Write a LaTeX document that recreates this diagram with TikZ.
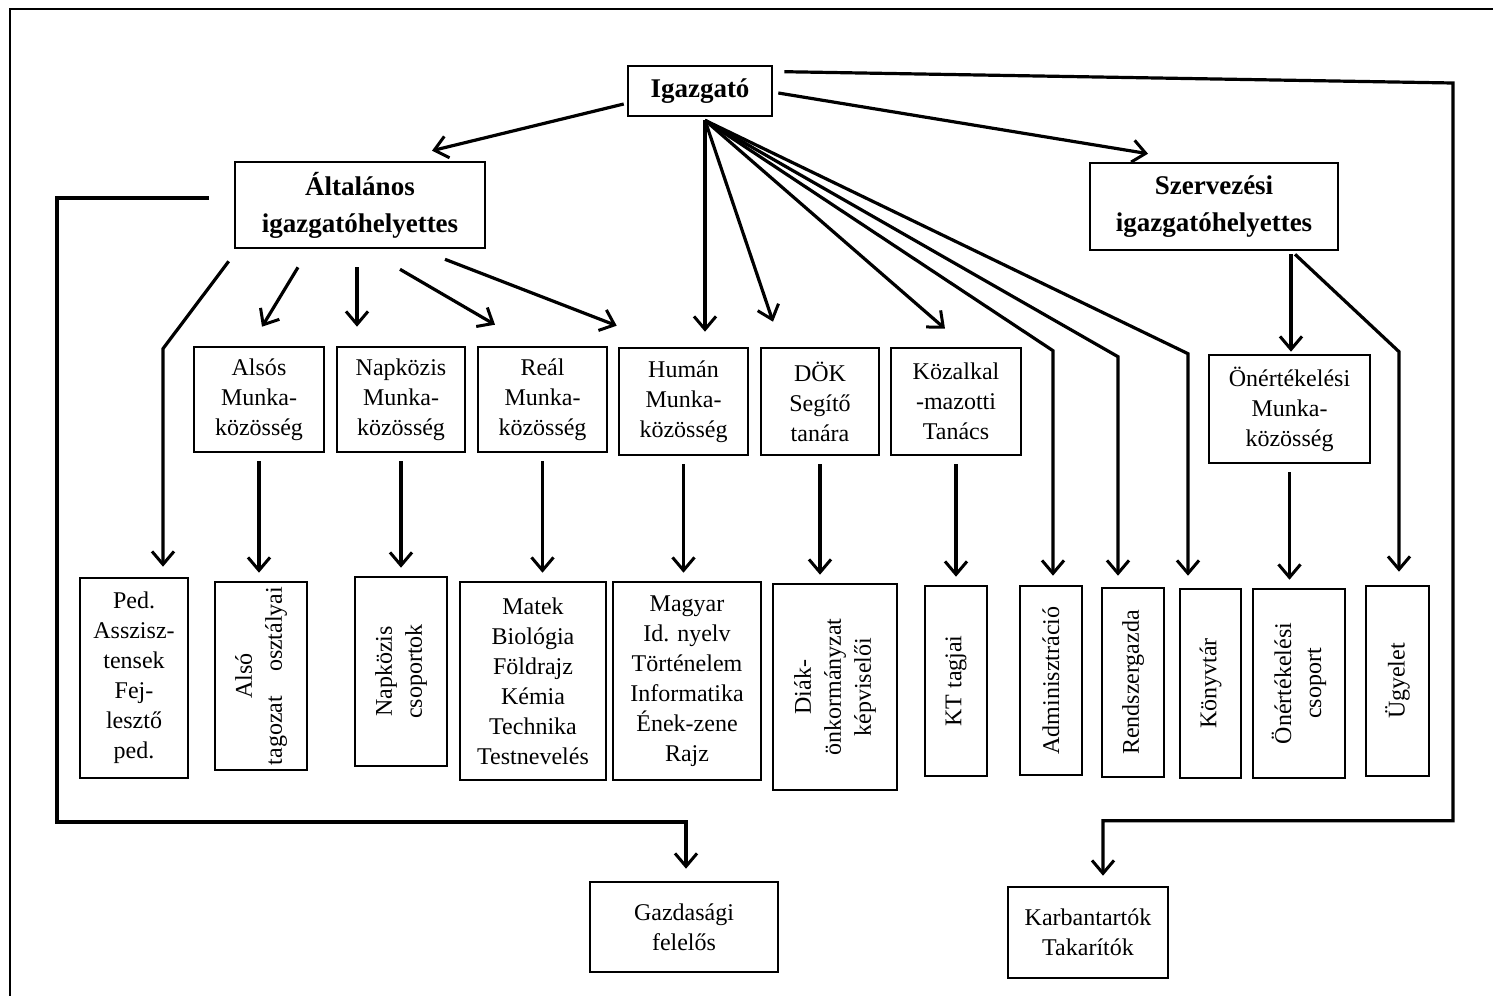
\documentclass[tikz,border=0pt]{standalone}
\usepackage{fontspec}
\setmainfont{Liberation Serif}
\usetikzlibrary{arrows.meta,calc}
\tikzset{
  box/.style     = {draw, line width=1.3pt, align=center, inner sep=1pt,
                    font=\fontsize{12}{15}\selectfont},
  headbox/.style = {box, font=\fontsize{13.5}{18.5}\selectfont\bfseries},
  vbox/.style    = {box, rotate=90},
  sig/.style     = {-{Straight Barb[length=6.5pt,width=11pt,line width=1.5pt]}, line width=1.6pt},
}

\begin{document}
\begin{tikzpicture}[x=0.5pt,y=-0.5pt]
\useasboundingbox (0,0) rectangle (1493,996);
\draw[line width=1.2pt] (1493,9) -- (10,9) -- (10,996);
% leaders
\node[headbox,minimum width=72pt,minimum height=25pt] (dir) at (700,91) {Igazgató};
\node[headbox,minimum width=125pt,minimum height=43pt] (alt) at (360,205) {Általános\\igazgatóhelyettes};
\node[headbox,minimum width=124pt,minimum height=43.5pt] (szerv) at (1214,206.5) {Szervezési\\igazgatóhelyettes};
% middle row
\node[box,minimum width=65pt,minimum height=52.5pt] (also) at (259,399.5) {Alsós\\Munka-\\közösség};
\node[box,minimum width=64pt,minimum height=52.5pt] (napk) at (401,399.5) {Napközis\\Munka-\\közösség};
\node[box,minimum width=64.5pt,minimum height=52.5pt] (real) at (542.5,399.5) {Reál\\Munka-\\közösség};
\node[box,minimum width=64.5pt,minimum height=53.5pt] (human) at (683.5,401.5) {Humán\\Munka-\\közösség};
\node[box,minimum width=59pt,minimum height=53.5pt] (dok) at (820,401.5) {DÖK\\Segítő\\tanára};
\node[box,minimum width=65pt,minimum height=53.5pt] (kozalk) at (956,401.5) {Közalkal\\-mazotti\\Tanács};
\node[box,minimum width=80.5pt,minimum height=54pt] (onert) at (1289.5,409) {Önértékelési\\Munka-\\közösség};
% bottom row
\node[box,minimum width=54pt,minimum height=100pt] (ped) at (134,678) {Ped.\\Asszisz-\\tensek\\Fej-\\lesztő\\ped.};
\node[vbox,minimum width=94pt,minimum height=46pt] (alsotag) at (261,676) {Alsó\\tagozat\quad osztályai};
\node[vbox,minimum width=94.5pt,minimum height=46pt] (napcs) at (401,671.5) {Napközis\\csoportok};
\node[box,minimum width=73pt,minimum height=99pt] (matek) at (533,681) {Matek\\Biológia\\Földrajz\\Kémia\\Technika\\Testnevelés};
\node[box,minimum width=74pt,minimum height=99pt] (magyar) at (687,681) {Magyar\\Id. nyelv\\Történelem\\Informatika\\Ének-zene\\Rajz};
\node[vbox,minimum width=103pt,minimum height=62pt] (diak) at (835,687) {Diák-\\önkormányzat\\képviselői};
\node[vbox,minimum width=95pt,minimum height=31pt] (kt) at (956,681) {KT tagjai};
\node[vbox,minimum width=94.5pt,minimum height=31pt] (admin) at (1051,680.5) {Adminisztráció};
\node[vbox,minimum width=94.5pt,minimum height=31pt] (rendsz) at (1133,682.5) {Rendszergazda};
\node[vbox,minimum width=94.5pt,minimum height=30.5pt] (konyv) at (1210.5,683.5) {Könyvtár};
\node[vbox,minimum width=94.5pt,minimum height=46pt] (oncs) at (1299,683.5) {Önértékelési\\csoport};
\node[vbox,minimum width=95pt,minimum height=31.5pt] (ugy) at (1397.5,681) {Ügyelet};
\node[box,minimum width=94pt,minimum height=45pt] (gazd) at (684,927) {Gazdasági\\felelős};
\node[box,minimum width=80pt,minimum height=45.5pt] (karb) at (1088,932.5) {Karbantartók\\Takarítók};
% Igazgato
\coordinate (fan) at ($(dir.south)+(5,3)$);
\draw[sig] ($(dir.west)+(-3,13)$) -- ($(alt.north)+(72,-10)$);
\draw[sig] ($(dir.east)+(5,2)$) -- ($(szerv.north)+(-66,-8)$);
\draw[sig] ($(dir.north east)+(11,7)$) -- (1453,83) |- ($(karb.north)+(15,-65)$) -- ($(karb.north)+(15,-10)$);
\draw[sig] (fan) -- ($(human.north)+(21.5,-15)$);
\draw[sig] (fan) -- ($(dok.north)+(-47,-25)$);
\draw[sig] (fan) -- ($(kozalk.north)+(-11,-18)$);
\draw[sig] (fan) -- ($(admin.east)+(2,-234)$) -- ($(admin.east)+(2,-9)$);
\draw[sig] (fan) -- ($(rendsz.east)+(-15,-230)$) -- ($(rendsz.east)+(-15,-11)$);
\draw[sig] (fan) -- ($(konyv.east)+(-22.5,-234)$) -- ($(konyv.east)+(-22.5,-12)$);
% Altalanos
\draw[sig] ($(alt.west)+(-25,-7)$) -| (57,822) -| ($(gazd.north)+(2,-12)$);
\draw[sig] ($(alt.south west)+(-5,12)$) -- ($(ped.north)+(29,-228)$) -- ($(ped.north)+(29,-10)$);
\draw[sig] ($(alt.south)+(-62,18)$) -- ($(also.north)+(3,-19)$);
\draw[sig] ($(alt.south)+(-3,18)$) -- ($(napk.north)+(-44,-19)$);
\draw[sig] ($(alt.south)+(40,20)$) -- ($(real.north)+(-47.5,-21)$);
\draw[sig] ($(alt.south)+(85,10)$) -- ($(human.north west)+(-1,-21)$);
% Szervezesi
\draw[sig] ($(szerv.south)+(77,3)$) -- ($(onert.north)+(1.5,-2)$);
\draw[sig] ($(szerv.south)+(81,3)$) -- ($(ugy.east)+(1.5,-233)$) -- ($(ugy.east)+(1.5,-13)$);
% down to the groups (top side of each lower box)
\foreach \a/\b in {also/alsotag.east,napk/napcs.east,real/matek.north,human/magyar.north,
                   dok/diak.east,kozalk/kt.east,onert/oncs.east}
  \draw[sig,shorten <=4pt,shorten >=4pt] (\a.south) -- (\a.south |- \b);
\end{tikzpicture}
\end{document}
